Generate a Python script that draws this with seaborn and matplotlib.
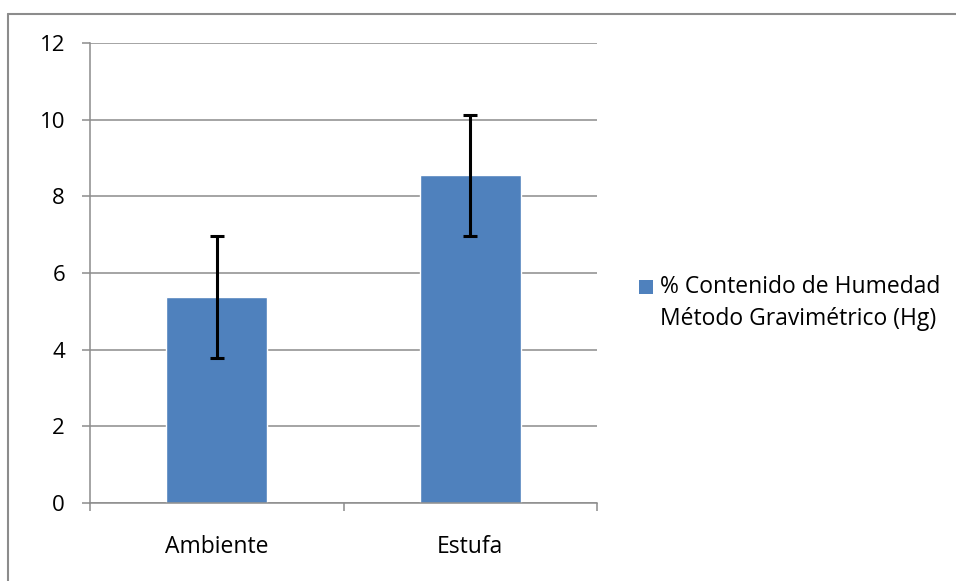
import matplotlib
matplotlib.use("Agg")
import matplotlib.pyplot as plt
import seaborn as sns
from matplotlib.lines import Line2D
from matplotlib.patches import Rectangle
from matplotlib.container import BarContainer
from matplotlib.legend_handler import HandlerPatch

# data
categorias = ["Ambiente", "Estufa"]
humedad = [5.38, 8.55]
desviacion = [1.59, 1.58]
serie = "% Contenido de Humedad\nMétodo Gravimétrico (Hg)"

sns.set_style("white")
plt.rcParams['font.family'] = ['Open Sans', 'DejaVu Sans']
plt.rcParams['text.color'] = 'black'
plt.rcParams['xtick.color'] = 'black'
plt.rcParams['ytick.color'] = 'black'

gris = "#8c8c8c"
azul = "#4F81BD"

fig = plt.figure(figsize=(9.56, 5.81), dpi=100)
ax = fig.add_axes([90 / 956, 78 / 581, 507 / 956, 460 / 581])

sns.barplot(x=categorias, y=humedad, color=azul, width=0.4, ax=ax,
            label=serie, saturation=1, errorbar=None)
ax.errorbar(range(len(categorias)), humedad, yerr=desviacion, fmt='none',
            ecolor='black', elinewidth=2.2, capsize=5, capthick=2.2, zorder=5)
if ax.get_legend() is not None:
    ax.get_legend().remove()

# axes styling (Excel-like)
ax.set_ylim(0, 12)
ax.set_yticks(range(0, 13, 2))
ax.set_xlim(-0.5, 1.5)
ax.set_xticks([-0.5, 0.5, 1.5])
ax.set_xticklabels([])
ax.set_xticks([0, 1], labels=categorias, minor=True)
ax.yaxis.grid(True, color=gris, linewidth=1.1)
ax.set_axisbelow(True)
for s in ['top', 'right']:
    ax.spines[s].set_visible(False)
for s in ['left', 'bottom']:
    ax.spines[s].set_color(gris)
    ax.spines[s].set_linewidth(1.1)
ax.tick_params(axis='y', which='major', length=6, width=1.1, color=gris,
               left=True, labelsize=16, pad=12)
ax.tick_params(axis='x', which='major', length=6, width=1.1, color=gris,
               bottom=True, direction='out')
ax.tick_params(axis='x', which='minor', length=0, labelsize=16.5, pad=23)
ax.set_xlabel('')
ax.set_ylabel('')


# legend square lined up with the first text line
def cuadro(legend, orig_handle, xdescent, ydescent, width, height, fontsize):
    lado = 10
    return Rectangle((-xdescent, -ydescent + height / 2 - lado / 2 + 12), lado, lado)


def color_barra(handle, orig):
    handle.set_facecolor(orig.patches[0].get_facecolor())
    handle.set_edgecolor('none')


handles, labels = ax.get_legend_handles_labels()
leg = fig.legend(handles, labels, loc='upper left', bbox_to_anchor=(639 / 956, 1 - 275 / 581),
                 frameon=False, fontsize=16.5, handlelength=0.6, handleheight=0.6,
                 handletextpad=0.3, borderpad=0, borderaxespad=0,
                 handler_map={BarContainer: HandlerPatch(patch_func=cuadro, update_func=color_barra)})
for t in leg.get_texts():
    t.set_linespacing(1.45)

# chart area border (top and left edges visible)
fig.add_artist(Line2D([8 / 956, 1], [1 - 14 / 581, 1 - 14 / 581],
                      transform=fig.transFigure, color=gris, linewidth=1.5))
fig.add_artist(Line2D([8 / 956, 8 / 956], [0, 1 - 14 / 581],
                      transform=fig.transFigure, color=gris, linewidth=1.5))

fig.savefig("out.png", dpi=100)
